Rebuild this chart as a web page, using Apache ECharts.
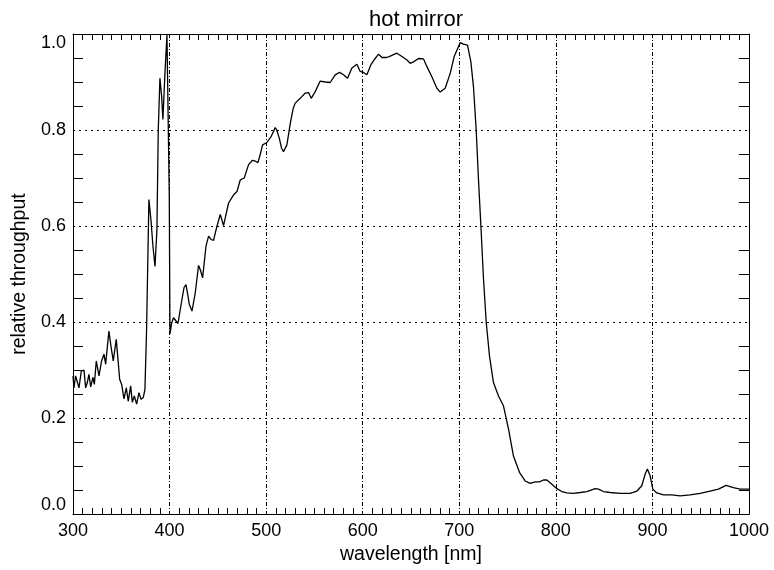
<!DOCTYPE html>
<html>
<head>
<meta charset="utf-8">
<script src="https://cdn.jsdelivr.net/npm/echarts@6/dist/echarts.min.js"></script>
<style>
html,body{margin:0;padding:0;background:#fff;}
#chart{width:774px;height:570px;}
</style>
</head>
<body>
<div id="chart"></div>
<script>
const titleText = "hot mirror";
const xName = "wavelength [nm]";
const yName = "relative throughput";
const xTicks = [300, 400, 500, 600, 700, 800, 900, 1000];
const yTicks = [0.0, 0.2, 0.4, 0.6, 0.8, 1.0];

const wavelength = [
  300, 301, 302.7, 304.5, 306.2, 308.6, 311.4, 313.1, 314.8, 316.5,
  318.3, 320.7, 322.1, 324.1, 326.9, 329.6, 332.1, 333.8, 337.2, 339.3,
  341.7, 344.8, 346.9, 348.3, 350.4, 352.8, 355.2, 357.2, 359.7, 361.4,
  363.5, 365.9, 368.3, 370.4, 372.8, 374.5, 376.2, 378.6, 380.7, 382.8,
  384.9, 386.9, 388.3, 390.0, 391.8, 393.1, 395.2, 397.3, 399.0, 399.7,
  400.4, 402.2, 404.1, 406, 408.7, 412.8, 415, 417, 419, 420.4,
  423.2, 426.6, 430, 432, 434.2, 437.7, 440.4, 443, 445.5, 449,
  452.5, 455.9, 458, 461.1, 466.3, 469.8, 473.2, 477.3, 481.8, 485.9,
  489, 491.5, 494, 496.3, 500.8, 505.3, 509.4, 511, 513.6, 516,
  518, 521.5, 525, 528, 530.1, 535.3, 540.5, 543.9, 546.7, 550.8,
  556, 561.2, 566.3, 571.5, 576, 580.1, 584.3, 588.8, 594, 597.4,
  600.8, 604.3, 608.5, 612.9, 616.4, 619.9, 625, 628.5, 635.4, 640.6,
  645.8, 649.2, 652.6, 657.8, 663, 666.5, 671.6, 676.8, 680.2, 685.4,
  690.6, 694.7, 699.2, 700.9, 704.3, 708.5, 712, 714.7, 717.5, 719.9,
  722.4, 725.1, 727.9, 731.3, 735.4, 740.6, 745.8, 751, 756.1, 762.3,
  768.2, 773.4, 778.6, 783, 787.2, 790.7, 795.9, 801, 806.2, 811.4,
  818.2, 825.2, 832.1, 840.7, 844.1, 849.3, 856.2, 866.6, 876.9, 883.9,
  889, 892.4, 894.8, 897.6, 900.4, 904.6, 911.4, 920.1, 928.7, 939,
  949.4, 959.7, 968.3, 976.3, 983.9, 990.8, 1000
];
const throughput = [
  0.288, 0.263, 0.288, 0.285, 0.263, 0.298, 0.300, 0.263, 0.274, 0.291,
  0.265, 0.285, 0.270, 0.319, 0.288, 0.319, 0.333, 0.312, 0.381, 0.350,
  0.319, 0.364, 0.315, 0.281, 0.270, 0.240, 0.263, 0.235, 0.267, 0.233,
  0.246, 0.229, 0.253, 0.239, 0.243, 0.260, 0.385, 0.655, 0.613, 0.558,
  0.516, 0.592, 0.800, 0.908, 0.870, 0.822, 0.918, 0.998, 1.000, 0.662,
  0.375, 0.398, 0.409, 0.405, 0.397, 0.447, 0.472, 0.478, 0.455, 0.437,
  0.423, 0.461, 0.518, 0.508, 0.492, 0.558, 0.579, 0.572, 0.570, 0.599,
  0.624, 0.601, 0.620, 0.648, 0.665, 0.672, 0.696, 0.700, 0.728, 0.737,
  0.735, 0.732, 0.750, 0.769, 0.774, 0.787, 0.805, 0.800, 0.783, 0.762,
  0.755, 0.769, 0.814, 0.845, 0.856, 0.866, 0.877, 0.878, 0.866, 0.880,
  0.902, 0.900, 0.899, 0.915, 0.920, 0.915, 0.908, 0.929, 0.937, 0.922,
  0.920, 0.915, 0.936, 0.949, 0.958, 0.951, 0.951, 0.954, 0.960, 0.953,
  0.946, 0.939, 0.942, 0.949, 0.948, 0.932, 0.911, 0.887, 0.879, 0.887,
  0.918, 0.953, 0.974, 0.982, 0.979, 0.977, 0.942, 0.890, 0.800, 0.696,
  0.599, 0.489, 0.399, 0.329, 0.274, 0.246, 0.225, 0.177, 0.121, 0.087,
  0.069, 0.064, 0.067, 0.067, 0.071, 0.071, 0.062, 0.053, 0.047, 0.044,
  0.043, 0.045, 0.047, 0.053, 0.052, 0.047, 0.045, 0.043, 0.043, 0.048,
  0.059, 0.083, 0.094, 0.080, 0.052, 0.044, 0.040, 0.040, 0.038, 0.040,
  0.043, 0.048, 0.052, 0.060, 0.055, 0.052, 0.052
];

const FONT = "'Liberation Sans', Arial, Helvetica, sans-serif";
const xMin = xTicks[0], xMax = xTicks[xTicks.length - 1];
const xInt = xTicks[1] - xTicks[0];
const yMin = yTicks[0], yMax = yTicks[yTicks.length - 1];
const yInt = +(yTicks[1] - yTicks[0]).toFixed(2);

const seriesData = wavelength.map((w, i) => [w, throughput[i]]);

const GRID_L = 73, GRID_R = 25, GRID_T = 34, GRID_B = 55, W = 774;
const axisLine = { show: true, onZero: false, lineStyle: { color: '#000', width: 1 } };

const chart = echarts.init(document.getElementById('chart'), null, { renderer: 'canvas' });
chart.setOption({
  animation: false,
  backgroundColor: '#fff',
  title: {
    text: titleText, left: GRID_L + (W - GRID_L - GRID_R) / 2, textAlign: 'center', top: 4,
    textStyle: { fontFamily: FONT, fontSize: 22, fontWeight: 'normal', color: '#000' }
  },
  grid: { left: GRID_L, right: GRID_R, top: GRID_T, bottom: GRID_B, containLabel: false },
  xAxis: [
    {
      type: 'value', min: xMin, max: xMax, interval: xInt, position: 'bottom',
      name: xName, nameLocation: 'middle', nameGap: 30,
      nameTextStyle: { fontFamily: FONT, fontSize: 19.5, color: '#000' },
      axisLine: axisLine,
      axisTick: { show: false },
      minorTick: { show: true, splitNumber: 10, length: -6, lineStyle: { color: '#000', width: 1 } },
      axisLabel: { fontFamily: FONT, fontSize: 18, color: '#000', margin: 8,
        formatter: v => String(v) },
      splitLine: { show: true, lineStyle: { color: '#000', width: 1, type: [4, 2, 1, 2] } }
    },
    {
      type: 'value', min: xMin, max: xMax, interval: xInt, position: 'top',
      axisLine: axisLine,
      axisTick: { show: false },
      minorTick: { show: true, splitNumber: 10, length: -6, lineStyle: { color: '#000', width: 1 } },
      axisLabel: { show: false },
      splitLine: { show: false }
    }
  ],
  yAxis: [
    {
      type: 'value', min: yMin, max: yMax, interval: yInt, position: 'left',
      name: yName, nameLocation: 'middle', nameGap: 42, nameRotate: 90,
      nameTextStyle: { fontFamily: FONT, fontSize: 19.5, color: '#000' },
      axisLine: axisLine,
      axisTick: { show: false },
      minorTick: { show: true, splitNumber: 4, length: -10, lineStyle: { color: '#000', width: 1 } },
      axisLabel: { fontFamily: FONT, fontSize: 18, color: '#000', margin: 7,
        verticalAlignMinLabel: 'bottom', verticalAlignMaxLabel: 'top',
        formatter: v => v.toFixed(1) },
      splitLine: { show: true, lineStyle: { color: '#000', width: 1, type: [2, 4] } }
    },
    {
      type: 'value', min: yMin, max: yMax, interval: yInt, position: 'right',
      axisLine: axisLine,
      axisTick: { show: false },
      minorTick: { show: true, splitNumber: 4, length: -10, lineStyle: { color: '#000', width: 1 } },
      axisLabel: { show: false },
      splitLine: { show: false }
    }
  ],
  series: [{
    type: 'line', xAxisIndex: 0, yAxisIndex: 0,
    data: seriesData, showSymbol: false, symbol: 'none',
    lineStyle: { color: '#000', width: 1.3 },
    clip: true
  }]
});
</script>
</body>
</html>
